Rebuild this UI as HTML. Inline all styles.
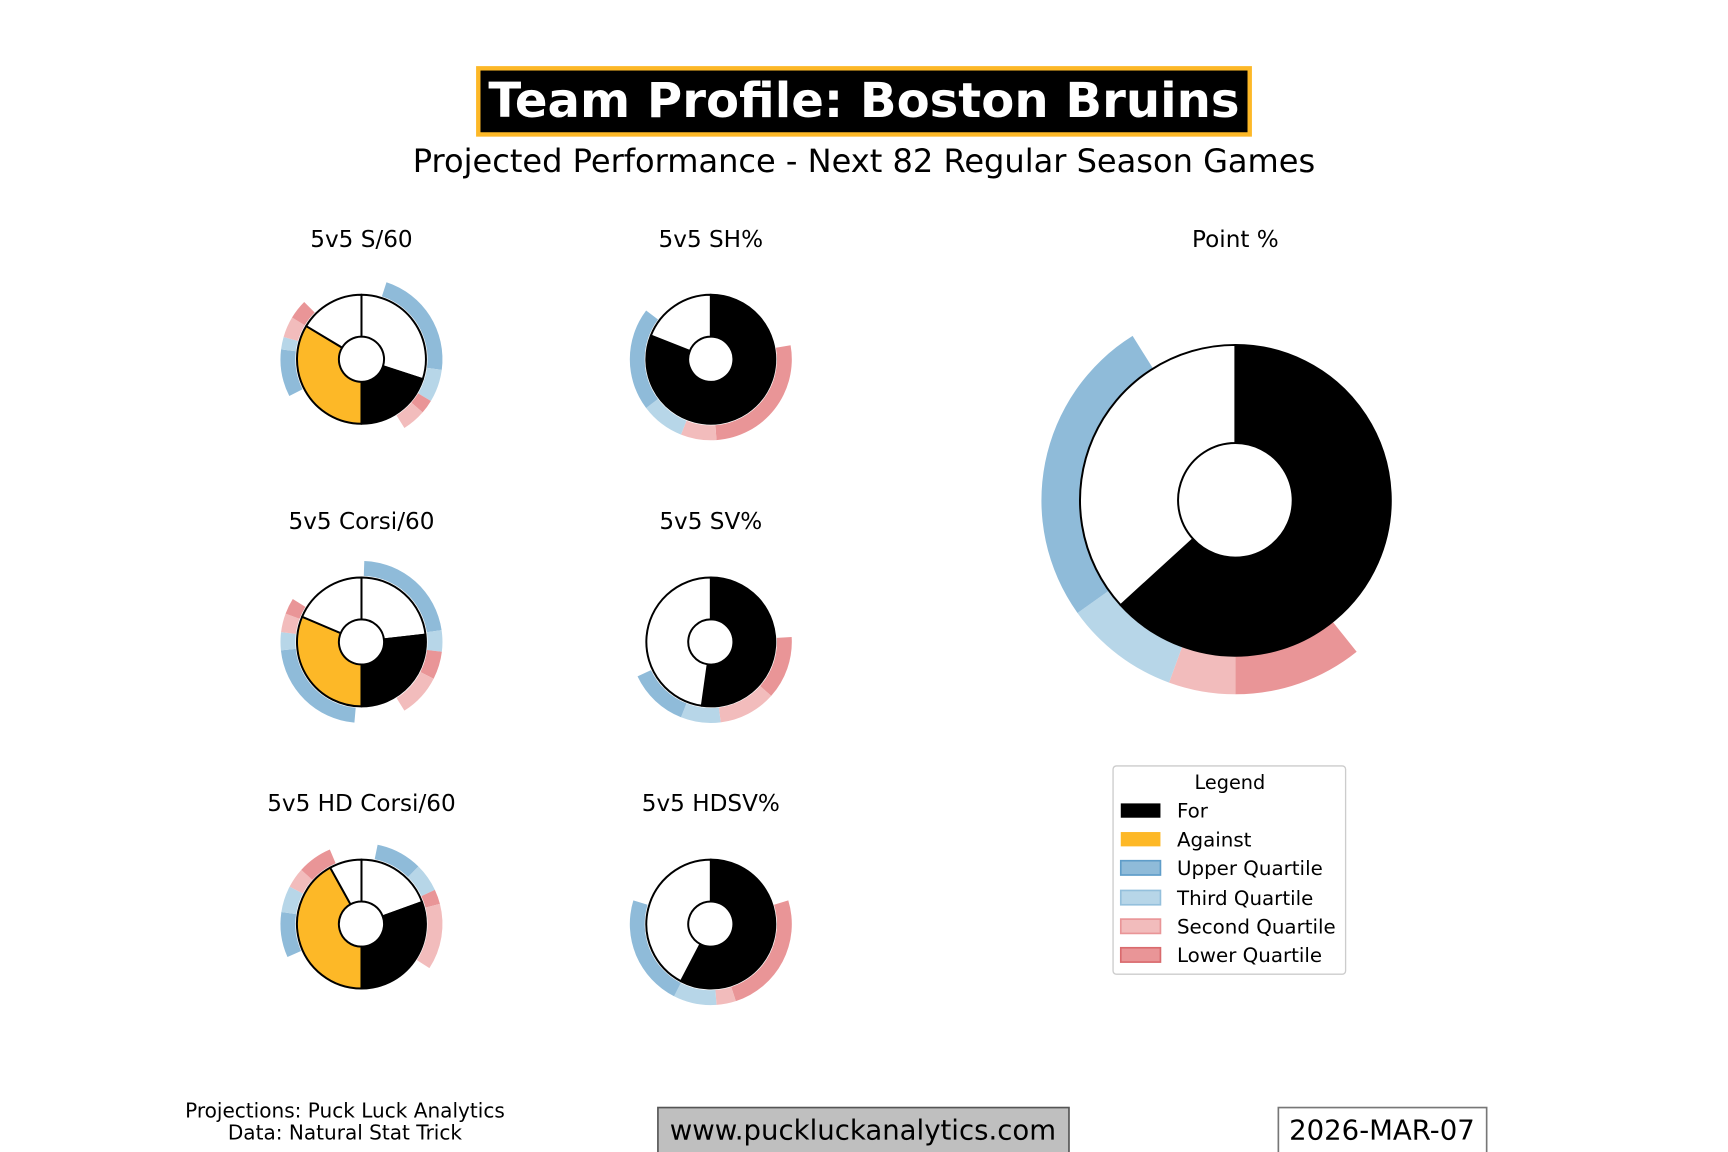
<!DOCTYPE html>
<html><head><meta charset="utf-8"><style>
html,body{margin:0;padding:0;background:#fff;}
svg{display:block;font-family:"DejaVu Sans","Liberation Sans",sans-serif;}
</style></head><body>
<svg id="s" width="1728" height="1152" viewBox="0 0 1568 1045.33" preserveAspectRatio="none" xmlns="http://www.w3.org/2000/svg">
<rect x="0" y="0" width="1568" height="1046" fill="#fff"/>
<rect x="434" y="62" width="700" height="60" fill="#000" stroke="#fdb827" stroke-width="4"/>
<text x="784" y="106" text-anchor="middle" font-size="43.7" font-weight="bold" fill="#fff">Team Profile: Boston Bruins</text>
<text x="784" y="156" text-anchor="middle" font-size="29.1">Projected Performance - Next 82 Regular Season Games</text>
<g font-size="21" text-anchor="middle">
<text x="328" y="224">5v5 S/60</text>
<text x="645" y="224">5v5 SH%</text>
<text x="1121" y="224">Point %</text>
<text x="328" y="480">5v5 Corsi/60</text>
<text x="645" y="480">5v5 SV%</text>
<text x="328" y="736">5v5 HD Corsi/60</text>
<text x="645" y="736">5v5 HDSV%</text>
</g>
<g id="charts"></g>
<rect x="1010" y="695" width="211" height="189" fill="#fff" stroke="#ccc" stroke-width="1.2" rx="3"/>
<text x="1116" y="716" text-anchor="middle" font-size="17.5">Legend</text>
<g font-size="18">
<rect x="1017" y="729" width="36" height="13" fill="#000"/><text x="1068" y="742">For</text>
<rect x="1017" y="755" width="36" height="13" fill="#fdb827"/><text x="1068" y="768">Against</text>
<rect x="1017" y="781" width="36" height="13" fill="#8fbbd9" stroke="#5f9dc9" stroke-width="1.5"/><text x="1068" y="794">Upper Quartile</text>
<rect x="1017" y="808" width="36" height="13" fill="#b7d6e8" stroke="#94c0dc" stroke-width="1.5"/><text x="1068" y="821">Third Quartile</text>
<rect x="1017" y="834" width="36" height="13" fill="#f2bcbc" stroke="#e99597" stroke-width="1.5"/><text x="1068" y="847">Second Quartile</text>
<rect x="1017" y="860" width="36" height="13" fill="#e99597" stroke="#d96a6d" stroke-width="1.5"/><text x="1068" y="873">Lower Quartile</text>
</g>
<g font-size="18.2" text-anchor="middle">
<text x="313" y="1014">Projections: Puck Luck Analytics</text>
<text x="313" y="1034">Data: Natural Stat Trick</text>
</g>
<rect x="597" y="1005" width="373" height="50" fill="#bfbfbf" stroke="#555" stroke-width="1.5"/>
<text x="783" y="1034" text-anchor="middle" font-size="25">www.puckluckanalytics.com</text>
<rect x="1160" y="1005" width="189" height="50" fill="#fff" stroke="#777" stroke-width="1.5"/>
<text x="1254" y="1034" text-anchor="middle" font-size="25">2026-MAR-07</text>
</svg>
<script>
var B="#8fbbd9",L="#b7d6e8",P="#f2bcbc",R="#e99597",K="#000",Y="#fdb827",W="#fff";
function pt(cx,cy,r,a){a=a*Math.PI/180;return [cx+r*Math.sin(a),cy-r*Math.cos(a)];}
function arc(cx,cy,r1,r2,a1,a2){var p1=pt(cx,cy,r2,a1),p2=pt(cx,cy,r2,a2),p3=pt(cx,cy,r1,a2),p4=pt(cx,cy,r1,a1);var lg=(a2-a1)>180?1:0;
return "M"+p1+" A"+r2+","+r2+" 0 "+lg+" 1 "+p2+" L"+p3+" A"+r1+","+r1+" 0 "+lg+" 0 "+p4+"Z";}
var g=document.getElementById("charts"),h="";
function donut(cx,cy,R0,rh,ri,ro,pie,ring){
 ring.forEach(function(s){h+='<path d="'+arc(cx,cy,ri,ro,s[0],s[1])+'" fill="'+s[2]+'"/>';});
 pie.forEach(function(s){h+='<path d="'+arc(cx,cy,rh,R0,s[0],s[1])+'" fill="'+s[2]+'" stroke="#000" stroke-width="1.8" stroke-linejoin="round"/>';});
}
donut(328,326,58.5,20.5,60,73.5,[[0,108,W],[108,180,K],[180,301,Y],[301,360,W]],
 [[18,97.5,B],[97.5,121,L],[121,131,R],[131,148,P],[243,277,B],[277,286,L],[286,301,P],[301,315,R]]);
donut(645,326,58.5,20.5,60,73.5,[[0,291.6,K],[291.6,360,W]],
 [[80,176,R],[176,201.6,P],[201.6,233,L],[233,307,B]]);
donut(328,582.5,58.5,20.5,60,73.5,[[0,83.5,W],[83.5,180,K],[180,293,Y],[293,360,W]],
 [[2,81.6,B],[81.6,97,L],[97,117,R],[117,148,P],[185,264,B],[264,277,L],[277,290.5,P],[290.5,302,R]]);
donut(645,582.5,58.5,20.5,60,73.5,[[0,188,K],[188,360,W]],
 [[86.5,131.8,R],[131.8,173,P],[173,201.6,L],[201.6,244.8,B]]);
donut(328,838.5,58.5,20.5,60,73.5,[[0,70,W],[70,180,K],[180,331,Y],[331,360,W]],
 [[11.5,44.7,B],[44.7,65,L],[65,75.6,R],[75.6,123,P],[246,278.6,B],[278.6,297.5,L],[297.5,312,P],[312,337,R]]);
donut(645,838.5,58.5,20.5,60,73.5,[[0,207.6,K],[207.6,360,W]],
 [[73,162,R],[162,176,P],[176,207,L],[207,287,B]]);
donut(1121,454,141,52,141,176,[[0,227.6,K],[227.6,360,W]],
 [[141.3,180,R],[180,200,P],[200,234.5,L],[234.5,328,B]]);
g.innerHTML=h;
</script>
</body></html>
